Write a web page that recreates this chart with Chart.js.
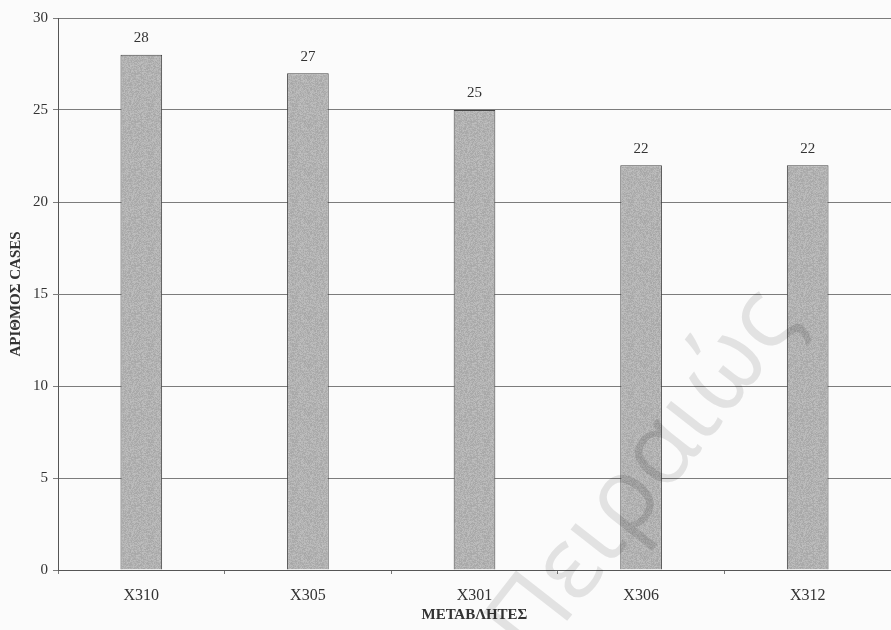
<!DOCTYPE html>
<html>
<head>
<meta charset="utf-8">
<script src="https://cdn.jsdelivr.net/npm/chart.js@4/dist/chart.umd.min.js"></script>
<style>
  html, body { margin: 0; padding: 0; background: #fbfbfb; }
  #wrap { width: 891px; height: 630px; position: relative; }
</style>
</head>
<body>
<div id="wrap"><canvas id="chart" width="891" height="630"></canvas></div>
<script>
// Variables and their case counts
const categories = ['X310', 'X305', 'X301', 'X306', 'X312'];
const caseCounts = [28, 27, 25, 22, 22];
const yTicks = [0, 5, 10, 15, 20, 25, 30];
const yTitle = 'ΑΡΙΘΜΟΣ CASES';
const xTitle = 'ΜΕΤΑΒΛΗΤΕΣ';
const watermark = 'Πειραιώς';

const SERIF = "'Liberation Serif', 'Times New Roman', serif";

// Mottled grey fill for the bars (deterministic hash noise)
function makeGrainPattern() {
  const c = document.createElement('canvas');
  c.width = 48; c.height = 48;
  const g = c.getContext('2d');
  const img = g.createImageData(48, 48);
  for (let y = 0; y < 48; y++) {
    for (let x = 0; x < 48; x++) {
      let h = (x * 374761393 + y * 668265263) | 0;
      h = (h ^ (h >>> 13)) * 1274126177 | 0;
      h = (h ^ (h >>> 16)) >>> 0;
      const v = 178 + ((h % 25) - 12);
      const i = (y * 48 + x) * 4;
      img.data[i] = v; img.data[i + 1] = v; img.data[i + 2] = v; img.data[i + 3] = 255;
    }
  }
  g.putImageData(img, 0, 0);
  return g.createPattern(c, 'repeat');
}

// Value labels above each bar
const valueLabels = {
  id: 'valueLabels',
  afterDatasetsDraw(chart) {
    const ctx = chart.ctx;
    const meta = chart.getDatasetMeta(0);
    ctx.save();
    ctx.font = '15px ' + SERIF;
    ctx.fillStyle = '#333';
    ctx.textAlign = 'center';
    ctx.textBaseline = 'bottom';
    meta.data.forEach((bar, i) => {
      ctx.fillText(String(caseCounts[i]), bar.x, bar.y - 9);
    });
    ctx.restore();
  }
};

// Faint diagonal watermark across the lower right
const watermarkText = {
  id: 'watermarkText',
  afterDraw(chart) {
    const ctx = chart.ctx;
    ctx.save();
    ctx.globalCompositeOperation = 'multiply';
    ctx.translate(645, 475);
    ctx.rotate(-52 * Math.PI / 180);
    ctx.font = "400 100px 'Open Sans', sans-serif";
    ctx.fillStyle = 'rgb(226,226,226)';
    ctx.textAlign = 'center';
    ctx.textBaseline = 'middle';
    ctx.fillText(watermark, 0, 0);
    ctx.restore();
  }
};

const ctx = document.getElementById('chart').getContext('2d');
new Chart(ctx, {
  type: 'bar',
  data: {
    labels: categories,
    datasets: [{
      data: caseCounts,
      backgroundColor: makeGrainPattern(),
      borderColor: '#444',
      borderWidth: 1,
      barPercentage: 0.25,
      categoryPercentage: 1.0
    }]
  },
  options: {
    responsive: false,
    animation: false,
    layout: { padding: { top: 18, right: 0, left: 0, bottom: 0 } },
    plugins: {
      legend: { display: false },
      tooltip: { enabled: false }
    },
    scales: {
      x: {
        offset: true,
        grid: {
          display: true,
          offset: true,
          drawOnChartArea: false,
          drawTicks: true,
          tickLength: 4,
          color: '#777'
        },
        border: { display: true, color: '#555', width: 1 },
        ticks: {
          font: { family: SERIF, size: 16 },
          color: '#333',
          padding: 12
        },
        title: {
          display: true,
          text: xTitle,
          font: { family: SERIF, size: 15, weight: 'bold' },
          color: '#333',
          padding: { top: 0, bottom: 6 }
        },
        afterFit(scale) { scale.height = 60; }
      },
      y: {
        min: 0,
        max: 30,
        afterBuildTicks(scale) { scale.ticks = yTicks.map(v => ({ value: v })); },
        grid: {
          color: '#7c7c7c',
          lineWidth: 1,
          tickLength: 5
        },
        border: { display: true, color: '#555', width: 1 },
        ticks: {
          font: { family: SERIF, size: 15 },
          color: '#333',
          padding: 5
        },
        title: {
          display: true,
          text: yTitle,
          font: { family: SERIF, size: 15, weight: 'bold' },
          color: '#333',
          padding: { top: 7, bottom: 4 }
        },
        afterFit(scale) { scale.width = 58; }
      }
    }
  },
  plugins: [valueLabels, watermarkText]
});
</script>
</body>
</html>
